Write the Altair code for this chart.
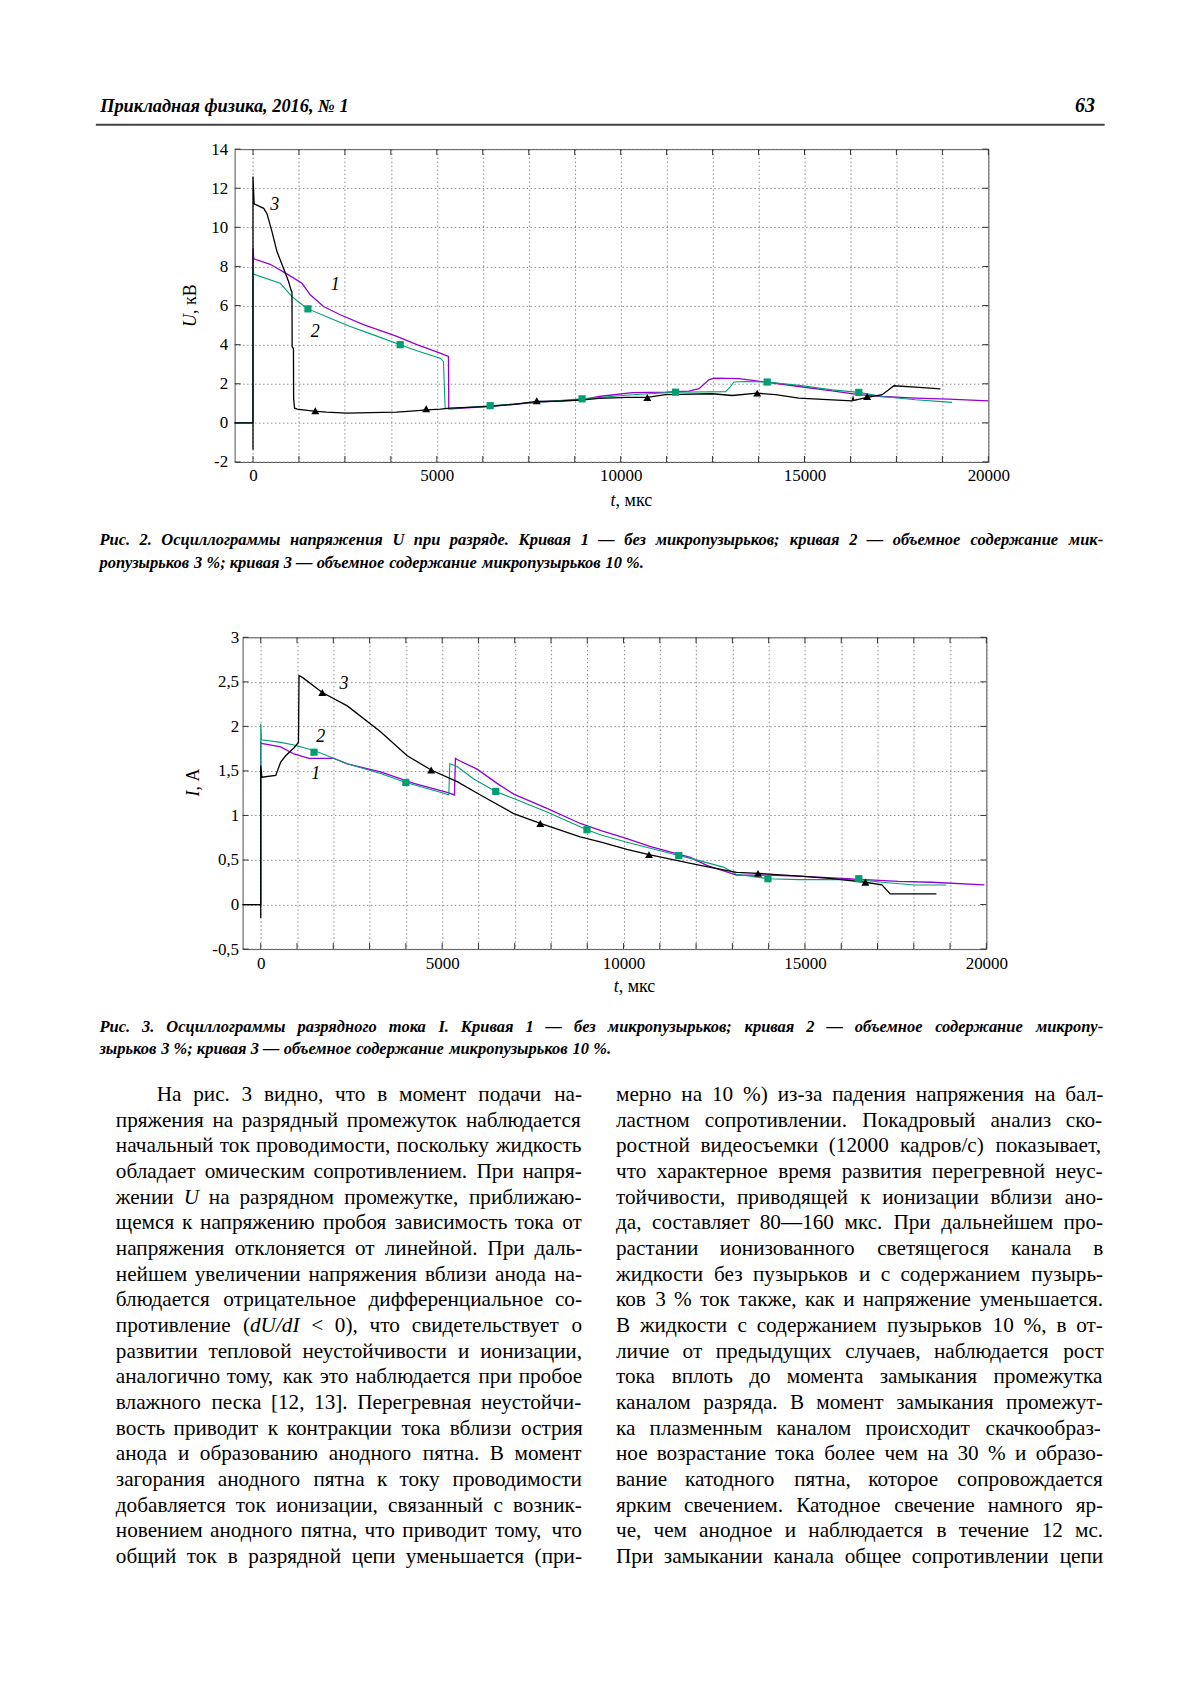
import glob
import struct

import altair as alt
import pandas as pd

FONT = "Liberation Serif"
PURPLE = "#9400d3"
GREEN = "#009e73"
BLACK = "#000000"
GRID = "#808080"
FRAME = "#505050"

# ---------------- Рис. 2 : U(t) ----------------
U_X_DOMAIN = [-500, 20000]
U_Y_DOMAIN = [-2, 14]
U_X_GRID = list(range(0, 20001, 1250))
U_Y_GRID = list(range(-2, 15, 2))
U_CURVE1 = [(-500, 0), (0, 0), (0, 8.93), (20, 8.39), (469, 8.11), (967, 7.57), (1332, 7.14), (1557, 6.55),
            (1920, 5.95), (2372, 5.53), (3005, 5.02), (3913, 4.42), (4457, 4.0), (5090, 3.57), (5316, 3.4),
            (5325, 0.72), (5400, 0.72), (6450, 0.84), (7720, 1.05), (9000, 1.2), (9411, 1.35), (10317, 1.55),
            (11220, 1.57), (11857, 1.62), (12128, 1.75), (12265, 1.98), (12400, 2.2), (12536, 2.29),
            (13216, 2.26), (13940, 2.09), (14846, 1.86), (15752, 1.64), (16476, 1.44), (17110, 1.35),
            (18016, 1.27), (18922, 1.22), (20000, 1.13)]
U_CURVE2 = [(-500, 0), (0, 0), (0, 7.99), (20, 7.6), (742, 7.14), (1060, 6.46), (1285, 6.12), (1494, 5.83),
            (2100, 5.35), (2644, 4.93), (3277, 4.5), (4003, 4.0), (4457, 3.69), (5090, 3.31), (5180, 3.14),
            (5226, 0.76), (5300, 0.72), (6450, 0.88), (7700, 1.05), (8950, 1.23), (9411, 1.3), (10317, 1.44),
            (11495, 1.57), (12853, 1.6), (12990, 1.86), (13080, 2.09), (13397, 2.12), (13986, 2.09),
            (14846, 1.92), (15752, 1.69), (16476, 1.56), (17110, 1.35), (18016, 1.18), (19013, 1.05)]
U_CURVE3 = [(-500, 0), (0, 0), (0, -1.37), (0, 12.6), (30, 11.2), (290, 10.97), (380, 10.7), (516, 9.78),
            (652, 8.76), (832, 7.9), (967, 7.23), (1033, 6.8), (1060, 6.7), (1065, 3.9), (1100, 3.8),
            (1105, 1.25), (1130, 0.75), (1200, 0.7), (1650, 0.6), (2000, 0.55), (2550, 0.5), (3200, 0.52),
            (3900, 0.55), (4300, 0.6), (4730, 0.66), (5100, 0.7), (5360, 0.76), (6450, 0.84), (7100, 0.95),
            (7720, 1.1), (8400, 1.12), (8990, 1.18), (9411, 1.25), (10170, 1.3), (10725, 1.3), (11220, 1.44),
            (12490, 1.49), (13034, 1.4), (13714, 1.52), (14212, 1.44), (14846, 1.27), (15752, 1.18),
            (16295, 1.13), (16320, 1.3), (16340, 1.15), (16703, 1.3), (17110, 1.44), (17291, 1.7),
            (17428, 1.9), (18016, 1.83), (18696, 1.74)]
U_SQUARES = [(1494, 5.83), (4003, 4.0), (6450, 0.88), (8950, 1.23), (11495, 1.57), (13986, 2.09), (16476, 1.56)]
U_TRIANGLES = [(1694, 0.62), (4710, 0.72), (7717, 1.13), (10725, 1.3), (13714, 1.52), (16703, 1.35)]
U_LABELS = [("1", 2237, 7.06), ("2", 1694, 4.67), ("3", 589, 11.14)]

# ---------------- Рис. 3 : I(t) ----------------
I_X_DOMAIN = [-500, 20000]
I_Y_DOMAIN = [-0.5, 3]
I_X_GRID = list(range(0, 20001, 1000))
I_Y_GRID = [-0.5, 0, 0.5, 1, 1.5, 2, 2.5, 3]
I_CURVE1 = [(-500, 0), (0, 0), (0, 1.82), (20, 1.81), (550, 1.77), (917, 1.69), (1330, 1.64), (2018, 1.64),
            (2385, 1.58), (3303, 1.49), (4220, 1.36), (5138, 1.26), (5339, 1.23), (5367, 1.64), (5450, 1.62),
            (5963, 1.52), (6513, 1.36), (6972, 1.24), (7890, 1.08), (8807, 0.91), (9381, 0.83), (10092, 0.74),
            (10747, 0.65), (11840, 0.53), (12295, 0.44), (13115, 0.33), (13934, 0.33), (14845, 0.32),
            (15756, 0.30), (16666, 0.28), (17577, 0.26), (18488, 0.25), (19945, 0.22)]
I_CURVE2 = [(-500, 0), (0, 0), (0, 2.03), (20, 1.85), (550, 1.82), (917, 1.79), (1468, 1.73), (1835, 1.67),
            (2018, 1.64), (2385, 1.58), (3303, 1.47), (4000, 1.37), (5046, 1.25), (5183, 1.23), (5211, 1.58),
            (5413, 1.55), (5871, 1.41), (6477, 1.27), (6972, 1.19), (7890, 1.04), (8991, 0.84), (9381, 0.78),
            (10092, 0.70), (11521, 0.55), (11931, 0.51), (12750, 0.42), (13115, 0.34), (13980, 0.29),
            (14845, 0.28), (15756, 0.28), (16484, 0.28), (17122, 0.25), (18032, 0.22), (18897, 0.22)]
I_CURVE3 = [(-500, 0), (0, 0), (0, -0.15), (0, 1.56), (30, 1.43), (413, 1.45), (550, 1.6), (688, 1.67),
            (917, 1.76), (1040, 1.82), (1055, 2.57), (1147, 2.55), (1697, 2.38), (2385, 2.23), (3303, 1.94),
            (4037, 1.67), (4697, 1.51), (5413, 1.38), (6055, 1.23), (6972, 1.02), (7706, 0.91), (8807, 0.76),
            (9381, 0.70), (10092, 0.62), (10701, 0.56), (12113, 0.44), (13115, 0.36), (13707, 0.35),
            (14845, 0.32), (15756, 0.29), (16666, 0.25), (17122, 0.22), (17349, 0.12), (18624, 0.12)]
I_SQUARES = [(1468, 1.71), (4000, 1.37), (6477, 1.27), (8991, 0.84), (11521, 0.55), (13980, 0.29), (16484, 0.29)]
I_TRIANGLES = [(1697, 2.38), (4697, 1.51), (7706, 0.91), (10701, 0.56), (13707, 0.35), (16666, 0.25)]
I_LABELS = [("3", 2293, 2.48), ("2", 1651, 1.88), ("1", 1514, 1.47)]

# ---------------- texts ----------------
HEADER = "Прикладная физика, 2016, № 1"
PAGE_NO = "63"
CAP2 = ["Рис. 2. Осциллограммы напряжения U при разряде. Кривая 1 — без микропузырьков; кривая 2 — объемное содержание мик-",
        "ропузырьков 3 %; кривая 3 — объемное содержание микропузырьков 10 %."]
CAP3 = ["Рис. 3. Осциллограммы разрядного тока I. Кривая 1 — без микропузырьков; кривая 2 — объемное содержание микропу-",
        "зырьков 3 %; кривая 3 — объемное содержание микропузырьков 10 %."]
BODY_LEFT = [
    "На рис. 3 видно, что в момент подачи на-",
    "пряжения на разрядный промежуток наблюдается",
    "начальный ток проводимости, поскольку жидкость",
    "обладает омическим сопротивлением. При напря-",
    "жении *U на разрядном промежутке, приближаю-",
    "щемся к напряжению пробоя зависимость тока от",
    "напряжения отклоняется от линейной. При даль-",
    "нейшем увеличении напряжения вблизи анода на-",
    "блюдается отрицательное дифференциальное со-",
    "противление (|*dU/dI < 0), что свидетельствует о",
    "развитии тепловой неустойчивости и ионизации,",
    "аналогично тому, как это наблюдается при пробое",
    "влажного песка [12, 13]. Перегревная неустойчи-",
    "вость приводит к контракции тока вблизи острия",
    "анода и образованию анодного пятна. В момент",
    "загорания анодного пятна к току проводимости",
    "добавляется ток ионизации, связанный с возник-",
    "новением анодного пятна, что приводит тому, что",
    "общий ток в разрядной цепи уменьшается (при-",
]
BODY_RIGHT = [
    "мерно на 10 %) из-за падения напряжения на бал-",
    "ластном сопротивлении. Покадровый анализ ско-",
    "ростной видеосъемки (12000 кадров/с) показывает,",
    "что характерное время развития перегревной неус-",
    "тойчивости, приводящей к ионизации вблизи ано-",
    "да, составляет 80—160 мкс. При дальнейшем про-",
    "растании ионизованного светящегося канала в",
    "жидкости без пузырьков и с содержанием пузырь-",
    "ков 3 % ток также, как и напряжение уменьшается.",
    "В жидкости с содержанием пузырьков 10 %, в от-",
    "личие от предыдущих случаев, наблюдается рост",
    "тока вплоть до момента замыкания промежутка",
    "каналом разряда. В момент замыкания промежут-",
    "ка плазменным каналом происходит скачкообраз-",
    "ное возрастание тока более чем на 30 % и образо-",
    "вание катодного пятна, которое сопровождается",
    "ярким свечением. Катодное свечение намного яр-",
    "че, чем анодное и наблюдается в течение 12 мс.",
    "При замыкании канала общее сопротивлении цепи",
]


# ---------------- font metrics (for justified text) ----------------
def _font_path(name):
    for root in ("/usr/share/fonts", "/usr/local/share/fonts", "/root/.fonts", "/root/.local/share/fonts"):
        try:
            hits = glob.glob(root + "/**/" + name, recursive=True)
        except Exception:
            hits = []
        if hits:
            return hits[0]
    return None


def _metrics(path):
    data = open(path, "rb").read()
    num = struct.unpack(">H", data[4:6])[0]
    tables = {}
    for i in range(num):
        rec = data[12 + 16 * i: 28 + 16 * i]
        tables[rec[:4].decode("latin1")] = struct.unpack(">I", rec[8:12])[0]
    head = tables["head"]
    upem = struct.unpack(">H", data[head + 18: head + 20])[0]
    hhea = tables["hhea"]
    nhm = struct.unpack(">H", data[hhea + 34: hhea + 36])[0]
    hmtx = tables["hmtx"]
    adv = [struct.unpack(">H", data[hmtx + 4 * i: hmtx + 4 * i + 2])[0] for i in range(nhm)]
    cmap = tables["cmap"]
    nsub = struct.unpack(">H", data[cmap + 2: cmap + 4])[0]
    sub = None
    for i in range(nsub):
        pid, eid, off = struct.unpack(">HHI", data[cmap + 4 + 8 * i: cmap + 12 + 8 * i])
        fmt = struct.unpack(">H", data[cmap + off: cmap + off + 2])[0]
        if fmt == 4 and (pid == 0 or (pid == 3 and eid == 1)):
            sub = cmap + off
            break
    segx2 = struct.unpack(">H", data[sub + 6: sub + 8])[0]
    n = segx2 // 2
    ends = struct.unpack(">%dH" % n, data[sub + 14: sub + 14 + segx2])
    starts = struct.unpack(">%dH" % n, data[sub + 16 + segx2: sub + 16 + 2 * segx2])
    deltas = struct.unpack(">%dh" % n, data[sub + 16 + 2 * segx2: sub + 16 + 3 * segx2])
    ro_pos = sub + 16 + 3 * segx2
    ros = struct.unpack(">%dH" % n, data[ro_pos: ro_pos + segx2])
    cache = {}

    def gid(c):
        for k in range(n):
            if ends[k] >= c:
                if starts[k] > c:
                    return 0
                if ros[k] == 0:
                    return (c + deltas[k]) & 0xFFFF
                addr = ro_pos + 2 * k + ros[k] + 2 * (c - starts[k])
                g = struct.unpack(">H", data[addr: addr + 2])[0]
                return (g + deltas[k]) & 0xFFFF if g else 0
        return 0

    def em(ch):
        if ch not in cache:
            g = gid(ord(ch))
            cache[ch] = (adv[g] if g < nhm else adv[-1]) / upem
        return cache[ch]

    return lambda s: sum(em(ch) for ch in s)


def _approx(s):
    return sum(0.25 if ch == " " else 0.5 for ch in s)


def _load(name):
    try:
        p = _font_path(name)
        if p:
            return _metrics(p)
    except Exception:
        pass
    return _approx


M_REG = _load("LiberationSerif-Regular.ttf")
M_IT = _load("LiberationSerif-Italic.ttf")
M_BI = _load("LiberationSerif-BoldItalic.ttf")


def parse_word(w):
    return [(s[1:], True) if s.startswith("*") else (s, False) for s in w.split("|")]


def word_w(segs, fn, fi, size):
    return sum((fi if it else fn)(s) * size for s, it in segs)


def natural(line, fn, fi):
    words = line.split(" ")
    return sum(word_w(parse_word(w), fn, fi, 1) for w in words) + fn(" ") * (len(words) - 1)


def layout(lines, x0, y0, lh, width, size, fn, fi, indent=0, justify_last=True):
    out = []
    for li, line in enumerate(lines):
        words = [parse_word(w) for w in line.split(" ")]
        wl = [word_w(wd, fn, fi, size) for wd in words]
        ind = indent if li == 0 else 0
        do_j = (justify_last or li < len(lines) - 1) and len(words) > 1
        gap = (width - ind - sum(wl)) / (len(words) - 1) if do_j else fn(" ") * size
        x = x0 + ind
        y = y0 + li * lh
        for wd, w in zip(words, wl):
            xx = x
            for s, it in wd:
                out.append((s, xx, y, it))
                xx += (fi if it else fn)(s) * size
            x += w + gap
    return out


# ---------------- page geometry (page pixel coordinates) ----------------
VIEW_W = 1184
LEFT_OVER = 216.3           # left overhang reserved in each chart view
O1 = (234.3, 147.3)
W1, H1 = 755, 313.4
O2 = (241.7, 635.0)
W2, H2 = 745, 312.3
SP1 = O1[0] - 8 - LEFT_OVER  # spacer widths that shift each plot horizontally
SP2 = O2[0] - 8 - LEFT_OVER
CAP1_TOP, CAP1_BOTTOM = 520.5, 600.5
BODY_TOP = 1005.5
BODY_H = 610


def pairs_df(pairs):
    return pd.DataFrame({"t": [p[0] for p in pairs], "v": [p[1] for p in pairs],
                         "i": list(range(len(pairs)))})


def one(text):
    return alt.Chart(pd.DataFrame({"s": [text]}))


def vtext(text, x, y, size, style="normal", weight="normal", align="left", angle=None):
    kw = dict(font=FONT, fontSize=size, fontStyle=style, fontWeight=weight, align=align,
              baseline="middle", color="black")
    if angle is not None:
        kw["angle"] = angle
    return one(text).mark_text(**kw).encode(x=alt.value(x), y=alt.value(y), text="s:N")


def vrule(x1, x2, y, color="white", width=1.0):
    return one("").mark_rule(color=color, strokeWidth=width).encode(
        x=alt.value(x1), x2=alt.value(x2), y=alt.value(y))


NOFRAME = alt.ViewBackground(stroke="transparent", strokeWidth=0)


def spacer(w):
    return one("").mark_rect(color="white", opacity=0).encode(
        x=alt.value(0), x2=alt.value(w), y=alt.value(0), y2=alt.value(1)
    ).properties(width=w, height=1, view=NOFRAME)


def panel(origin, W, H, xdom, ydom, xgrid, ygrid, ylab_expr, ypad, curves, squares, tris, labels,
          ytitle, xtitle, ytitle_c, xtitle_c, anchor_top, anchor_bottom):
    ox, oy = origin
    xs = alt.Scale(domain=xdom, nice=False, zero=False)
    ys = alt.Scale(domain=ydom, nice=False, zero=False)
    common = dict(grid=True, gridDash=[1.5, 2.5], gridColor=GRID, gridWidth=0.9, ticks=False, domain=False,
                  labelFont=FONT, labelFontSize=17, labelColor="black", labelFlush=False,
                  labelOverlap=False, title=None)
    xax = alt.Axis(values=xgrid, labelPadding=6,
                   labelExpr="datum.value % 5000 == 0 ? format(datum.value, 'd') : ''", **common)
    yax = alt.Axis(values=ygrid, labelPadding=ypad, labelExpr=ylab_expr, **common)
    X = alt.X("t:Q", scale=xs, axis=xax)
    Y = alt.Y("v:Q", scale=ys, axis=yax)
    layers = []
    tx = pd.DataFrame({"t": xgrid})
    ty = pd.DataFrame({"v": ygrid})
    tk = dict(color="#333333", strokeWidth=1)
    layers += [
        alt.Chart(tx).mark_rule(**tk).encode(x=X, y=alt.value(0), y2=alt.value(6)),
        alt.Chart(tx).mark_rule(**tk).encode(x=X, y=alt.value(H - 6), y2=alt.value(H)),
        alt.Chart(ty).mark_rule(**tk).encode(y=Y, x=alt.value(0), x2=alt.value(6)),
        alt.Chart(ty).mark_rule(**tk).encode(y=Y, x=alt.value(W - 6), x2=alt.value(W)),
    ]
    for pairs, color, sw in curves:
        layers.append(alt.Chart(pairs_df(pairs)).mark_line(color=color, strokeWidth=sw).encode(
            x=X, y=Y, order="i:Q"))
    layers.append(alt.Chart(pairs_df(squares)).mark_square(color=GREEN, size=52, opacity=1).encode(x=X, y=Y))
    layers.append(alt.Chart(pairs_df(tris)).mark_point(shape="triangle-up", filled=True, color=BLACK,
                                                       size=64, opacity=1).encode(x=X, y=Y))
    ldf = pd.DataFrame({"s": [l[0] for l in labels], "t": [l[1] for l in labels], "v": [l[2] for l in labels]})
    layers.append(alt.Chart(ldf).mark_text(font=FONT, fontSize=18, fontStyle="italic", color="black").encode(
        x=X, y=Y, text="s:N"))
    # axis titles: italic symbol + upright unit
    fs = 18
    a, b = ytitle
    wa, wb = M_IT(a) * fs, M_REG(b) * fs
    cx, cy = ytitle_c[0] - ox, ytitle_c[1] - oy
    bottom = cy + (wa + wb) / 2
    layers.append(vtext(a, cx, bottom, fs, style="italic", angle=270))
    layers.append(vtext(b, cx, bottom - wa, fs, angle=270))
    a, b = xtitle
    wa, wb = M_IT(a) * fs, M_REG(b) * fs
    cx, cy = xtitle_c[0] - ox, xtitle_c[1] - oy
    left = cx - (wa + wb) / 2
    layers.append(vtext(a, left, cy, fs, style="italic"))
    layers.append(vtext(b, left + wa, cy, fs))
    # invisible layout anchors fixing this view's bounding box
    layers.append(vrule(-LEFT_OVER + 0.5, 1191.5 - ox, anchor_top + 0.5 - oy))
    layers.append(vrule(-LEFT_OVER + 0.5, 1191.5 - ox, anchor_bottom - 0.5 - oy))
    return layers


NEG = "(datum.value < 0 ? '-' : '') + "
c1_layers = panel(O1, W1, H1, U_X_DOMAIN, U_Y_DOMAIN, U_X_GRID, U_Y_GRID,
                  NEG + "format(abs(datum.value), 'd')", 7,
                  [(U_CURVE1, PURPLE, 1.3), (U_CURVE2, GREEN, 1.1), (U_CURVE3, BLACK, 1.3)],
                  U_SQUARES, U_TRIANGLES, U_LABELS, ("U", ", кВ"), ("t", ", мкс"),
                  (190.5, 304.0), (632.0, 499.3), 8.0, CAP1_TOP)
# page header
hsize = max(15.0, min(19.0, 249.0 / M_BI(HEADER)))
c1_layers.append(vtext(HEADER, 99.6 - O1[0], 104 - O1[1], hsize, style="italic", weight="bold"))
c1_layers.append(vtext(PAGE_NO, 1096 - O1[0], 104 - O1[1], 20, style="italic", weight="bold", align="right"))
c1_layers.append(vrule(95.3 - O1[0], 1105.8 - O1[0], 122.9 - O1[1], color="#444444", width=2.2))
chart1 = alt.layer(*c1_layers).properties(width=W1, height=H1)

c2_layers = panel(O2, W2, H2, I_X_DOMAIN, I_Y_DOMAIN, I_X_GRID, I_Y_GRID,
                  NEG + "replace(format(abs(datum.value), '.1~f'), '.', ',')", 4,
                  [(I_CURVE1, PURPLE, 1.3), (I_CURVE2, GREEN, 1.1), (I_CURVE3, BLACK, 1.3)],
                  I_SQUARES, I_TRIANGLES, I_LABELS, ("I", ", А"), ("t", ", мкс"),
                  (193.0, 780.5), (634.5, 985.6), CAP1_BOTTOM, BODY_TOP)
chart2 = alt.layer(*c2_layers).properties(width=W2, height=H2)


def text_view(items, height):
    """items: (text, view_x, view_y, size, style, weight)"""
    bx = alt.Scale(domain=[0, VIEW_W], nice=False, zero=False)
    by = alt.Scale(domain=[0, height], nice=False, zero=False, reverse=True)
    groups = {}
    for it in items:
        groups.setdefault((it[3], it[4], it[5]), []).append(it)
    layers = []
    for (size, style, weight), rows in groups.items():
        df = pd.DataFrame({"w": [r[0] for r in rows], "px": [r[1] for r in rows], "py": [r[2] for r in rows]})
        layers.append(alt.Chart(df).mark_text(font=FONT, fontSize=size, fontStyle=style, fontWeight=weight,
                                              align="left", baseline="middle", color="black").encode(
            x=alt.X("px:Q", scale=bx, axis=None), y=alt.Y("py:Q", scale=by, axis=None), text="w:N"))
    return alt.layer(*layers).properties(width=VIEW_W, height=height, view=NOFRAME)


def caption_items(lines, page_x, page_y1, lh, top, right):
    size = max(14.0, min(16.5, 0.99 * (right - page_x) / natural(lines[0], M_BI, M_BI)))
    items = []
    for s, x, y, it in layout(lines, page_x - 8, page_y1 - top, lh, right - page_x, size, M_BI, M_BI,
                              justify_last=False):
        items.append((s, x, y, size, "italic", "bold"))
    return items


cap1_view = text_view(caption_items(CAP2, 99.6, 538.0, 23.0, CAP1_TOP, 1105.0), CAP1_BOTTOM - CAP1_TOP)

# body text
L_X, L_W = 116.0, 467.0
R_X, R_W = 617.0, 488.0
INDENT = 41.0
fits = []
for li, line in enumerate(BODY_LEFT):
    fits.append((L_W - (INDENT if li == 0 else 0)) / natural(line, M_REG, M_IT))
for line in BODY_RIGHT:
    fits.append(R_W / natural(line, M_REG, M_IT))
BODY_SIZE = max(16.0, min(21.5, min(fits) * 0.995))
LH = 25.7
Y1 = 1093.0
body_items = caption_items(CAP3, 99.6, 1024.5, 22.5, BODY_TOP, 1105.0)
for col, x0, w, ind in ((BODY_LEFT, L_X, L_W, INDENT), (BODY_RIGHT, R_X, R_W, 0)):
    for s, x, y, it in layout(col, x0 - 8, Y1 - BODY_TOP, LH, w, BODY_SIZE, M_REG, M_IT, indent=ind):
        body_items.append((s, x, y, BODY_SIZE, "italic" if it else "normal", "normal"))
body_view = text_view(body_items, BODY_H)

row1 = alt.hconcat(spacer(SP1), chart1, spacing=0)
row3 = alt.hconcat(spacer(SP2), chart2, spacing=0)

chart = alt.vconcat(row1, cap1_view, row3, body_view, spacing=0).properties(padding=0).configure(
    font=FONT).configure_view(stroke=FRAME, strokeWidth=1)

chart.save("out.html", embed_options={"renderer": "svg", "actions": False})
